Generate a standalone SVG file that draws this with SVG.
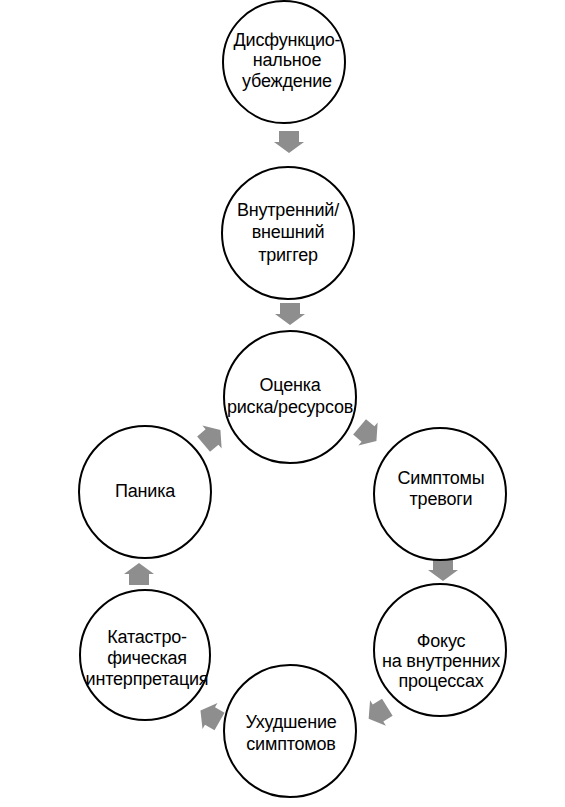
<svg xmlns="http://www.w3.org/2000/svg" xmlns:xlink="http://www.w3.org/1999/xlink" width="565" height="807" viewBox="0 0 565 807">
<style>
.node circle{fill:#fff;stroke:#000;stroke-width:2}
.node text{font-family:"Liberation Sans",Arial,sans-serif;font-size:18px;letter-spacing:-0.2px;fill:#000;text-anchor:middle}
.arr{fill:#8e8e8e}
</style>
<defs>
<path id="arrow" d="M-10,-11 H10 V0 H15 L0,11 L-15,0 H-10 Z"/>
</defs>
<rect width="565" height="807" fill="#fff"/>
<g id="connectors" class="arr">
<use xlink:href="#arrow" transform="translate(289,142)"/>
<use xlink:href="#arrow" transform="translate(290,314)"/>
<use xlink:href="#arrow" transform="translate(368,434) rotate(-50)"/>
<use xlink:href="#arrow" transform="translate(443,570)"/>
<use xlink:href="#arrow" transform="translate(378,713) rotate(58)"/>
<use xlink:href="#arrow" transform="translate(210,716) rotate(120)"/>
<use xlink:href="#arrow" transform="translate(139,574) rotate(180)"/>
<use xlink:href="#arrow" transform="translate(212,437) rotate(-130)"/>
</g>
<g id="n1" class="node"><circle cx="284" cy="62" r="61"/>
<text x="287" y="46">Дисфункцио-</text><text x="287" y="66">нальное</text><text x="287" y="87">убеждение</text></g>
<g id="n2" class="node"><circle cx="288" cy="233" r="66"/>
<text x="288" y="216">Внутренний/</text><text x="288" y="238">внешний</text><text x="288" y="261">триггер</text></g>
<g id="n3" class="node"><circle cx="290" cy="397" r="66"/>
<text x="290" y="391">Оценка</text><text x="290" y="413">риска/ресурсов</text></g>
<g id="n4" class="node"><circle cx="440" cy="494" r="66"/>
<text x="441" y="484">Симптомы</text><text x="441" y="505">тревоги</text></g>
<g id="n5" class="node"><circle cx="440" cy="650" r="66"/>
<text x="441" y="647">Фокус</text><text x="441" y="667">на внутренних</text><text x="441" y="687">процессах</text></g>
<g id="n6" class="node"><circle cx="290" cy="731" r="66"/>
<text x="291" y="728">Ухудшение</text><text x="291" y="750">симптомов</text></g>
<g id="n7" class="node"><circle cx="145" cy="655" r="65"/>
<text x="147" y="643">Катастро-</text><text x="147" y="664">фическая</text><text x="147" y="685">интерпретация</text></g>
<g id="n8" class="node"><circle cx="145" cy="492" r="66"/>
<text x="145" y="497">Паника</text></g>
</svg>
